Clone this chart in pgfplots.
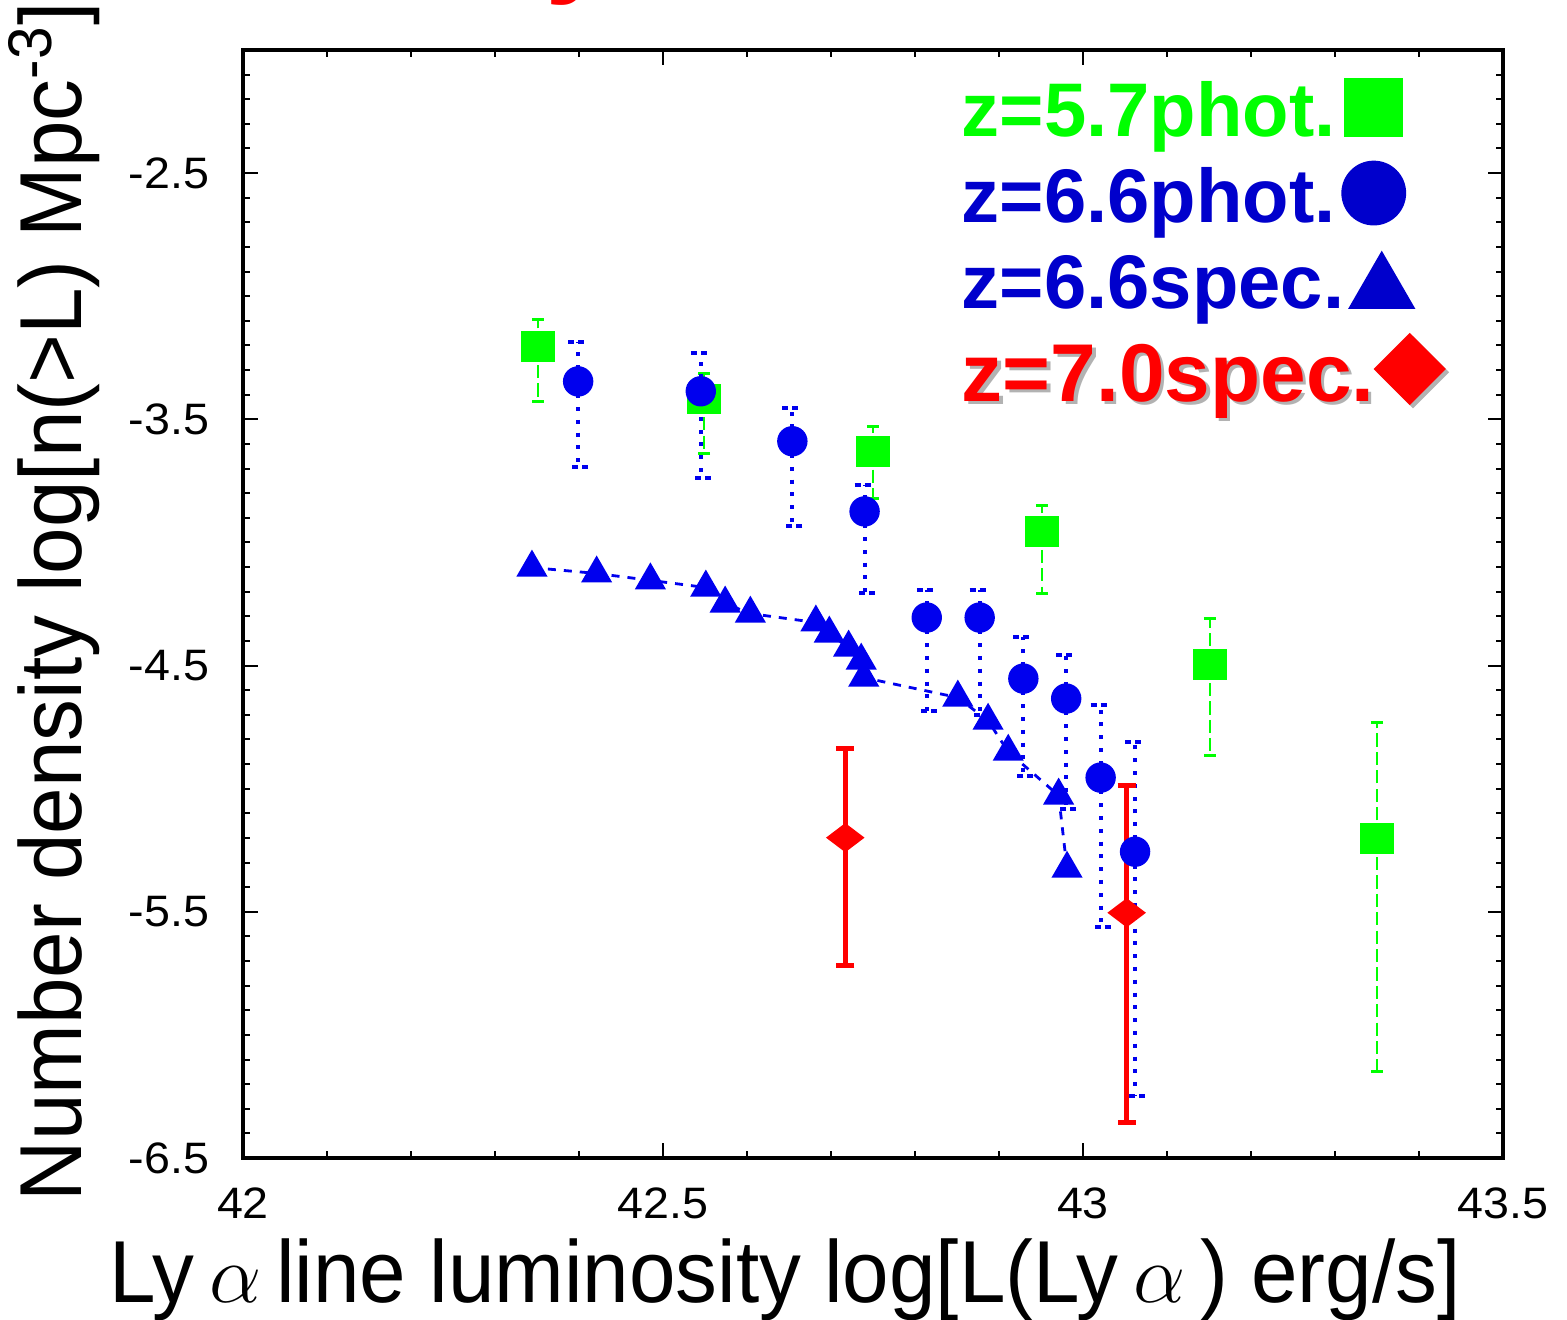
\documentclass[border=0pt]{standalone}
\usepackage{fontspec}
\setmainfont{Liberation Sans}
\newfontfamily\tickfont[FakeStretch=1.06]{Liberation Sans}
\newfontfamily\labfont[FakeStretch=0.95]{Liberation Sans}
\usepackage{pgfplots}
\usepackage{pgfplotstable}
\pgfplotsset{compat=1.18}
\definecolor{lgreen}{RGB}{0,255,0}
\definecolor{pblue}{RGB}{0,0,238}
\definecolor{lblue}{RGB}{0,0,204}
\definecolor{lred}{RGB}{255,0,0}
\newcommand{\shadowed}[2]{\makebox[0pt][l]{\kern0.8pt\raisebox{-0.8pt}{\textcolor{black!30}{#2}}}\textcolor{#1}{#2}}

\pgfplotstableread{
x y ep em
42.351 -3.205 0.112 0.222
42.549 -3.417 0.104 0.221
42.750 -3.630 0.102 0.191
42.951 -3.955 0.105 0.252
43.151 -4.496 0.187 0.370
43.350 -5.203 0.471 0.947
}\greenphot

\pgfplotstableread{
x y ep em
42.399 -3.346 0.159 0.349
42.545 -3.386 0.154 0.354
42.654 -3.589 0.134 0.346
42.740 -3.874 0.106 0.333
42.814 -4.305 0.110 0.378
42.877 -4.305 0.110 0.394
42.929 -4.553 0.171 0.394
42.980 -4.634 0.175 0.447
43.021 -4.955 0.296 0.606
43.062 -5.256 0.447 0.992
}\bluephot

\pgfplotstableread{
x y
42.344 -4.102
42.421 -4.126
42.485 -4.154
42.551 -4.183
42.574 -4.248
42.604 -4.289
42.682 -4.325
42.698 -4.370
42.721 -4.427
42.736 -4.480
42.739 -4.549
42.851 -4.630
42.887 -4.724
42.911 -4.850
42.971 -5.028
42.981 -5.325
}\bluespec

\pgfplotstableread{
x y ep em
42.717 -5.199 0.362 0.521
43.052 -5.504 0.516 0.850
}\redspec

\begin{document}
\begin{tikzpicture}
\begin{axis}[
  at={(0,0)}, anchor=south west,
  width=315pt, height=277pt, scale only axis,
  xmin=42, xmax=43.5, ymin=-6.5, ymax=-2,
  xtick={42,42.5,43,43.5},
  ytick={-6.5,-5.5,-4.5,-3.5,-2.5},
  minor xtick={42,42.1,...,43.55},
  minor ytick={-6.5,-6.4,...,-1.95},
  tick align=inside,
  major tick length=3.75pt, minor tick length=1.75pt,
  every tick/.style={black, line width=0.5pt},
  axis line style={line width=1pt},
  /pgf/number format/assume math mode=true,
  xticklabel style={font=\tickfont\fontsize{11}{11}\selectfont, inner sep=0pt, anchor=north, yshift=-7.25pt},
  yticklabel style={font=\tickfont\fontsize{11}{11}\selectfont, inner sep=0pt, anchor=east, xshift=-8.25pt},
  xlabel={Ly\,$\alpha$\,line luminosity log[L(Ly\,$\alpha$\,) erg/s]},
  xlabel style={at={(axis description cs:0.4302,0)}, anchor=base, yshift=-36pt, inner sep=0pt, font=\labfont\fontsize{22}{26}\selectfont},
  ylabel={Number density log[n(>L) Mpc\textsuperscript{-3}]},
  ylabel style={at={(axis description cs:-0.1278,-0.0397)}, anchor=base west, inner sep=0pt, font=\labfont\fontsize{22}{26}\selectfont},
  legend plot pos=right,
  legend style={at={(rel axis cs:0.5706,0.9783)}, anchor=north west, draw=none, fill=none,
     inner sep=0pt, outer sep=0pt, row sep=2pt, column sep=0pt,
     font=\bfseries\fontsize{19}{19}\selectfont,
     nodes={inner sep=0pt, text height=15.5pt, text depth=4pt}},
  legend cell align=left,
  legend style={cells={anchor=base west}},
]
\addplot[forget plot, only marks, color=lgreen, mark=square*, mark size=3.6pt,
  mark options={xscale=1.14, fill=lgreen, draw=lgreen},
  error bars/.cd, y dir=both, y explicit,
  error bar style={line width=0.6pt, dash pattern=on 3.3pt off 1.3pt, lgreen},
  error mark options={rotate=90, mark size=1.5pt, line width=0.8pt, lgreen, solid}]
  table[x=x, y=y, y error plus=ep, y error minus=em] {\greenphot};

\addplot[forget plot, color=pblue, line width=0.7pt, dash pattern=on 2pt off 2pt,
  mark=triangle*, mark size=3.8pt, mark options={solid, fill=pblue, draw=pblue}]
  table[x=x, y=y] {\bluespec};

\addplot[forget plot, only marks, color=pblue, mark=*, mark size=3.6pt,
  mark options={fill=pblue, draw=pblue},
  error bars/.cd, y dir=both, y explicit,
  error bar style={line width=1pt, dash pattern=on 1pt off 2.2pt, pblue},
  error mark options={rotate=90, mark size=2.5pt, line width=1pt, pblue, dash pattern=on 1.5pt off 1pt}]
  table[x=x, y=y, y error plus=ep, y error minus=em] {\bluephot};

\addplot[forget plot, only marks, color=lred, mark=diamond*, mark size=3.4pt,
  mark options={xscale=1.76, fill=lred, draw=lred},
  error bars/.cd, y dir=both, y explicit,
  error bar style={line width=1.25pt, solid, lred},
  error mark options={rotate=90, mark size=2.25pt, line width=1.25pt, lred}]
  table[x=x, y=y, y error plus=ep, y error minus=em] {\redspec};

\addlegendimage{legend image code/.code={\path (0pt,0pt); \draw[only marks, lgreen, fill=lgreen, mark=square*, mark size=7.2pt] plot coordinates {(17.75pt,7.1pt)};}}
\addlegendentry{\makebox[85pt][l]{\textcolor{lgreen}{z=5.7phot.}}}
\addlegendimage{legend image code/.code={\path (0pt,0pt); \draw[only marks, lblue, fill=lblue, mark=*, mark size=7.9pt] plot coordinates {(17.75pt,7.25pt)};}}
\addlegendentry{\makebox[85pt][l]{\textcolor{lblue}{z=6.6phot.}}}
\addlegendimage{legend image code/.code={\path (0pt,0pt); \draw[only marks, lblue, fill=lblue, mark=triangle*, mark size=9.3pt] plot coordinates {(19.75pt,4.65pt)};}}
\addlegendentry{\makebox[85pt][l]{\textcolor{lblue}{z=6.6spec.}}}
\addlegendimage{legend image code/.code={\path (0pt,0pt);
   \draw[only marks, black!30, fill=black!30, mark=diamond*, mark size=8.75pt, mark options={xscale=1.333}] plot coordinates {(27.55pt,7.2pt)};
   \draw[only marks, lred, fill=lred, mark=diamond*, mark size=8.75pt, mark options={xscale=1.333}] plot coordinates {(26.75pt,8pt)};}}
\addlegendentry[text height=17.25pt]{\makebox[85pt][l]{\fontsize{20.5}{20.5}\selectfont\shadowed{lred}{z=7.0spec.}}}
\end{axis}
\node[red, anchor=base east, inner sep=0pt, font=\bfseries\fontsize{30}{30}\selectfont] at (92.5pt,294.25pt) {Ly};
\pgfresetboundingbox
\useasboundingbox (-60.75pt,-40.5pt) rectangle (331pt,289.5pt);
\end{tikzpicture}
\end{document}
